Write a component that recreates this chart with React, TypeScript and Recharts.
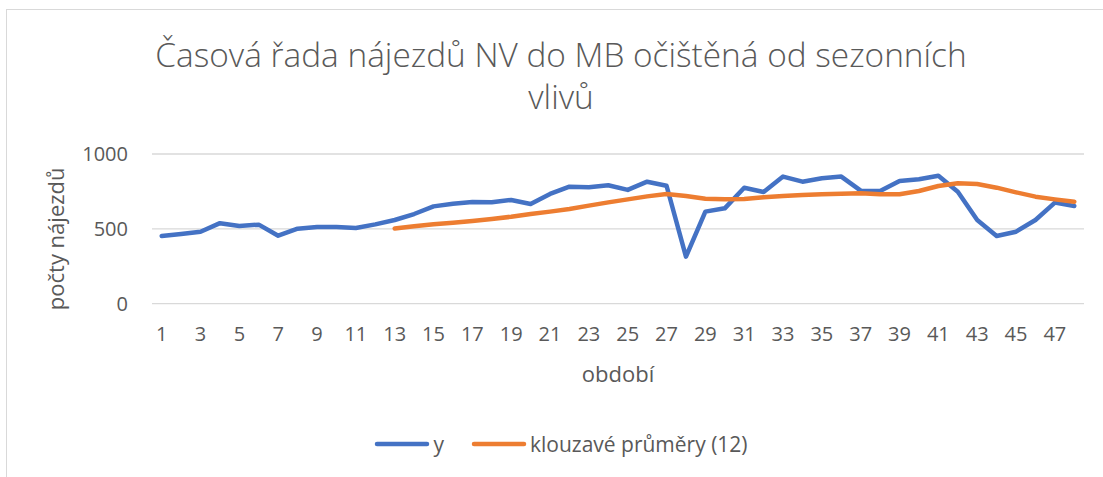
import React from "react";
import { LineChart, Line, XAxis, YAxis, CartesianGrid, Legend } from "recharts";

const periods = [
  "1", "2", "3", "4", "5", "6", "7", "8", "9", "10", "11", "12",
  "13", "14", "15", "16", "17", "18", "19", "20", "21", "22", "23", "24",
  "25", "26", "27", "28", "29", "30", "31", "32", "33", "34", "35", "36",
  "37", "38", "39", "40", "41", "42", "43", "44", "45", "46", "47", "48",
];

const yValues = [
  452, 466, 481, 538, 519, 528, 454, 501, 512, 512, 506, 530,
  559, 599, 650, 668, 679, 677, 693, 666, 733, 782, 778, 791,
  760, 815, 788, 314, 615, 637, 775, 746, 849, 815, 838, 849,
  755, 753, 820, 831, 855, 748, 559, 452, 481, 559, 675, 653,
];

const movingAvg = [
  null, null, null, null, null, null, null, null, null, null, null, null,
  503, 518, 530, 540, 552, 566, 581, 599, 615, 633, 655, 677,
  697, 717, 733, 719, 701, 697, 700, 711, 719, 726, 731, 735,
  737, 731, 731, 753, 786, 804, 800, 775, 744, 715, 697, 681,
];

const yTicks = [0, 500, 1000];

const series = [
  { key: "y", name: "y", color: "#4472C4" },
  { key: "ma", name: "klouzavé průměry (12)", color: "#ED7D31" },
];

const data = periods.map((p, i) => ({ period: p, y: yValues[i], ma: movingAvg[i] }));

const FONT = "'Open Sans', sans-serif";
const TEXT = "#595959";

function LegendContent() {
  return (
    <div style={{ display: "flex", justifyContent: "center", gap: 27, fontFamily: FONT, fontSize: 21, color: TEXT }}>
      {series.map((s) => (
        <div key={s.key} style={{ display: "flex", alignItems: "center" }}>
          <svg width={56} height={10} style={{ marginRight: 3 }}>
            <line x1={3} y1={5} x2={53} y2={5} stroke={s.color} strokeWidth={4.5} strokeLinecap="round" />
          </svg>
          <span>{s.name}</span>
        </div>
      ))}
    </div>
  );
}

export default function App() {
  return (
    <div style={{ position: "absolute", left: 0, top: 0, width: 1103, height: 477, overflow: "hidden", background: "#fff" }}>
      <div style={{ position: "absolute", left: 6, top: 9, width: 1130, height: 520, border: "1.5px solid #d9d9d9" }} />
      <div
        style={{
          position: "absolute",
          left: 0,
          top: 33,
          width: 1122,
          textAlign: "center",
          fontFamily: FONT,
          fontWeight: 300,
          fontSize: 33.4,
          lineHeight: "42px",
          color: TEXT,
        }}
      >
        Časová řada nájezdů NV do MB očištěná od sezonních
        <br />
        vlivů
      </div>
      <LineChart
        width={1103}
        height={477}
        data={data}
        margin={{ top: 154, right: 19, bottom: 113.3, left: 0 }}
        style={{ position: "absolute", left: 0, top: 0 }}
      >
        <CartesianGrid vertical={false} stroke="#d9d9d9" strokeWidth={1.3} />
        <XAxis
          dataKey="period"
          interval={1}
          axisLine={false}
          tickLine={false}
          tickSize={0}
          tickMargin={23}
          height={60}
          padding={{ left: 9.7, right: 9.7 }}
          tick={{ fill: TEXT, fontSize: 20, fontFamily: FONT }}
          label={{
            content: (p: any) => {
              const vb = p.viewBox;
              return (
                <text x={vb.x + vb.width / 2} y={381.5} textAnchor="middle" fill={TEXT} fontSize={22} fontFamily={FONT}>
                  období
                </text>
              );
            },
          }}
        />
        <YAxis
          width={152}
          domain={[0, 1000]}
          ticks={yTicks}
          axisLine={false}
          tickLine={false}
          tickSize={0}
          tickMargin={24}
          tick={{ fill: TEXT, fontSize: 20, fontFamily: FONT }}
          label={{
            content: (p: any) => {
              const vb = p.viewBox;
              const cy = vb.y + vb.height / 2 + 10;
              return (
                <text
                  x={64}
                  y={cy}
                  transform={`rotate(-90 64 ${cy})`}
                  textAnchor="middle"
                  fill={TEXT}
                  fontSize={22}
                  fontFamily={FONT}
                >
                  počty nájezdů
                </text>
              );
            },
          }}
        />
        <Legend
          layout="vertical"
          align="center"
          verticalAlign="middle"
          wrapperStyle={{ left: 0, top: 430, width: 1122 }}
          content={<LegendContent />}
        />
        {series.map((s) => (
          <Line
            key={s.key}
            type="linear"
            dataKey={s.key}
            name={s.name}
            stroke={s.color}
            strokeWidth={4.5}
            strokeLinejoin="round"
            strokeLinecap="round"
            dot={false}
            activeDot={false}
            isAnimationActive={false}
          />
        ))}
      </LineChart>
    </div>
  );
}
